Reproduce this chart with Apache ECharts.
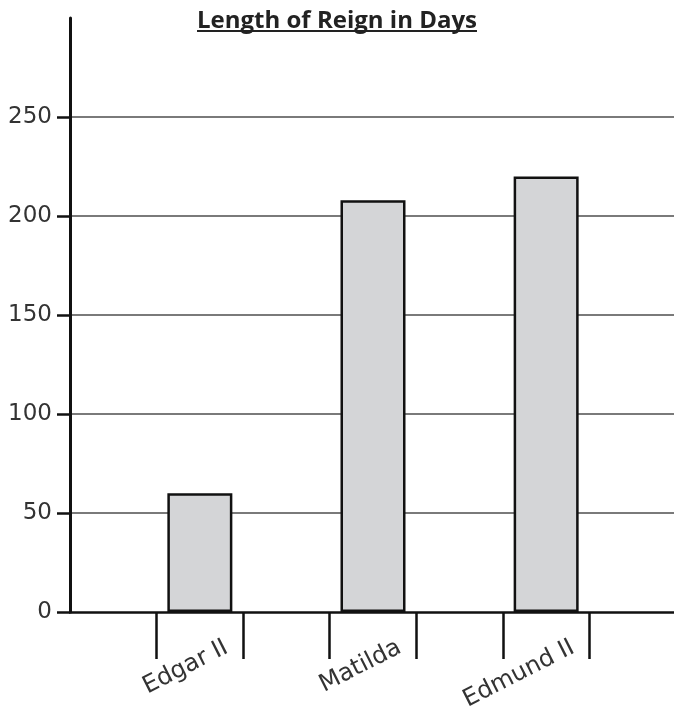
<!DOCTYPE html>
<html>
<head>
<meta charset="utf-8">
<script src="https://cdn.jsdelivr.net/npm/echarts@6/dist/echarts.min.js"></script>
<style>
  html, body { margin: 0; padding: 0; background: #fff; }
  #chart { width: 674px; height: 715px; }
</style>
</head>
<body>
<div id="chart"></div>
<script>
// data
var titleText = 'Length of Reign in Days';
var names = ['Edgar II', 'Matilda', 'Edmund II'];
var days = [60, 208, 220];
var yTicks = [0, 50, 100, 150, 200, 250];

// the axis has a blank slot before, between and after every bar
var axisCats = [''];
var barData = [null];
names.forEach(function (n, i) {
  axisCats.push(n, '');
  barData.push(days[i], null);
});

var titleFont = 'bold 24px "Open Sans"';
var ctx = document.createElement('canvas').getContext('2d');
ctx.font = titleFont;
var titleW = ctx.measureText(titleText).width;

var chart = echarts.init(document.getElementById('chart'));

var option = {
  animation: false,
  backgroundColor: '#fff',
  title: {
    text: titleText,
    left: 'center',
    top: 4,
    textStyle: {
      fontFamily: 'Open Sans',
      fontWeight: 'bold',
      fontSize: 24,
      color: '#222'
    }
  },
  graphic: [{
    type: 'line',
    shape: { x1: 337 - titleW / 2, y1: 31, x2: 337 + titleW / 2, y2: 31 },
    style: { stroke: '#222', lineWidth: 2 }
  }],
  // axis runs a little past the right edge, like the original
  grid: { left: 70, width: 606, top: 18, bottom: 103, outerBoundsMode: 'none' },
  xAxis: {
    type: 'category',
    data: axisCats,
    boundaryGap: true,
    axisLine: { lineStyle: { color: '#111', width: 2.5 } },
    axisTick: {
      show: true,
      length: 47,
      // no tick where the y axis stands
      interval: function (i) { return i > 0; },
      lineStyle: { color: '#111', width: 2.5 }
    },
    axisLabel: {
      interval: 0,
      rotate: 27,
      margin: 48,
      padding: [0, -30, 0, 0],
      fontFamily: 'DejaVu Sans',
      fontSize: 24,
      color: '#333'
    },
    splitLine: { show: false }
  },
  yAxis: {
    type: 'value',
    min: 0,
    max: 300,
    interval: 50,
    axisLine: { show: true, lineStyle: { color: '#111', width: 3 } },
    axisTick: {
      show: true,
      length: 13,
      customValues: yTicks,
      lineStyle: { color: '#111', width: 2.5 }
    },
    axisLabel: {
      margin: 18,
      customValues: yTicks,
      fontFamily: 'DejaVu Sans',
      fontSize: 23,
      color: '#333'
    },
    splitLine: {
      show: true,
      showMinLine: false,
      lineStyle: { color: '#7a7a7a', width: 2 }
    }
  },
  series: [{
    type: 'bar',
    data: barData,
    barWidth: 65,
    itemStyle: {
      color: '#d4d5d7',
      borderColor: '#111',
      borderWidth: 2.5
    }
  }]
};

chart.setOption(option);
</script>
</body>
</html>
